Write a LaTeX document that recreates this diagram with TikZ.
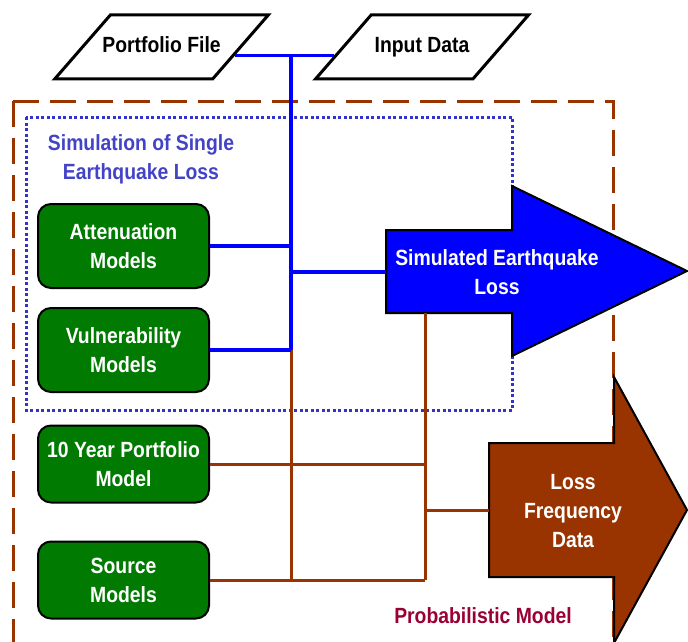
\documentclass[tikz,border=0pt]{standalone}
\usepackage{fontspec}
\setmainfont{Liberation Sans}[FakeStretch=0.88]
\usetikzlibrary{shapes.geometric,calc}
\definecolor{modelgreen}{HTML}{007A00}
\definecolor{linkblue}{HTML}{0000FF}
\definecolor{rust}{HTML}{993300}
\definecolor{dotblue}{HTML}{3333CC}
\definecolor{titleblue}{HTML}{4343C8}
\definecolor{probred}{HTML}{990033}
\tikzset{
  lbl/.style={font=\bfseries\fontsize{22}{29}\selectfont, align=center, inner sep=0pt},
  inputfile/.style={lbl, trapezium, trapezium stretches body=true, trapezium left angle=49, trapezium right angle=131, draw=black, line width=3pt, text height=16pt, text depth=5pt, inner ysep=21.5pt, inner xsep=-8pt, minimum width=213pt},
  modelbox/.style={lbl, draw=black, line width=2pt, fill=modelgreen, rounded corners=13pt, minimum width=171pt, text=white},
  bluelink/.style={linkblue, line width=3.5pt},
  brownlink/.style={rust, line width=3pt},
}
\begin{document}
\begin{tikzpicture}[x=1pt,y=-1pt]
\useasboundingbox (0,0) rectangle (688,642);
\draw [rust, line width=3pt, dash pattern=on 26pt off 11pt] (13,101) -- (13,642);
\draw [rust, line width=3pt, dash pattern=on 26pt off 11pt] (13,101) -- (613,101) -- (613,642);
\draw [dotblue, line width=3pt, dash pattern=on 3pt off 2.5pt] (26,117) rectangle (512,410);

\node [inputfile] (pf) at (161.5,47) {Portfolio File};
\node [inputfile] (id) at (422,47) {Input Data};
\node [modelbox, minimum height=84pt] (att) at (123.5,246) {Attenuation\\Models};
\node [modelbox, minimum height=84pt] (vul) at (123.5,350) {Vulnerability\\Models};
\node [modelbox, minimum height=77pt] (yr) at (123.5,464) {10 Year Portfolio\\Model};
\node [modelbox, minimum height=77pt] (src) at (123.5,580) {Source\\Models};
\node [lbl, text=titleblue] (simtitle) at (141,159) {Simulation of Single\\Earthquake Loss};

\filldraw [fill=linkblue, draw=black, line width=2pt] (386,230) -- (512,230) -- (512,186) -- (687,271) -- (512,356) -- (512,313) -- (386,313) -- cycle;
\filldraw [fill=rust, draw=black, line width=2pt] (489,443) -- (614,443) -- (614,377) -- (687,510) -- (614,643) -- (614,577) -- (489,577) -- cycle;
\coordinate (simin) at (386,272);
\coordinate (simfoot) at (425,313);
\coordinate (lossin) at (489,510);
\coordinate (bus) at (291,55);
\coordinate (rbus) at (425,580);
\node [lbl, text=white] (simlabel) at (497,272) {Simulated Earthquake\\Loss};
\node [lbl, text=white] (losslabel) at (573,511) {Loss\\Frequency\\Data};
\node [lbl, text=probred] (problabel) at (483,616) {Probabilistic Model};

\draw [bluelink] ($(pf.bottom right corner)!.37!(pf.top right corner)$) -- ($(id.bottom left corner)!.37!(id.top left corner)$);
\draw [brownlink] (vul.east -| bus) -- (src.east -| bus);
\draw [brownlink] (yr.east) -- (yr.east -| rbus);
\draw [brownlink] (src.east) -- (rbus);
\draw [brownlink] (simfoot) -- (rbus);
\draw [brownlink] (lossin -| rbus) -- (lossin);
\draw [bluelink] (bus) -- (vul.east -| bus);
\draw [bluelink] (att.east) -- (att.east -| bus);
\draw [bluelink] (vul.east) -- (vul.east -| bus);
\draw [bluelink] (simin -| bus) -- (simin);
\end{tikzpicture}
\end{document}
